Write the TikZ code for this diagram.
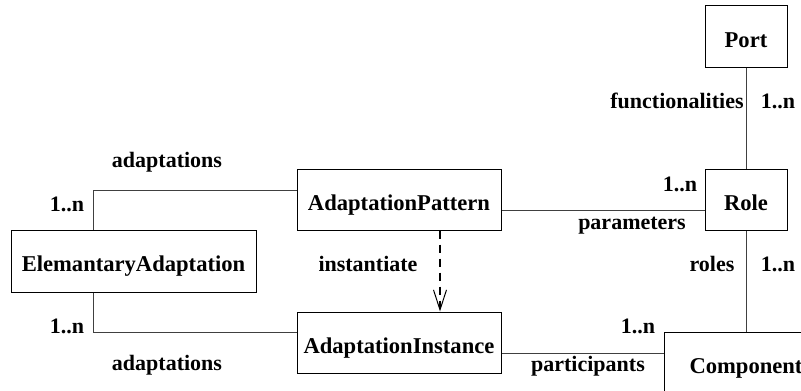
\documentclass[tikz,border=0pt]{standalone}
\usepackage{fontspec}
\setmainfont{Liberation Serif}
\usetikzlibrary{arrows.meta}
\begin{document}
\begin{tikzpicture}[x=1pt,y=-1pt,
  classbox/.style={draw,line width=1pt,rectangle,inner sep=0pt,
    text height=24pt,text depth=3pt,
    font=\fontsize{22.6}{27}\selectfont\bfseries},
  lbl/.style={inner sep=0pt,anchor=base,
    font=\fontsize{22}{26}\selectfont\bfseries},
  assoc/.style={line width=0.9pt,draw=black!75},
  dep/.style={line width=2pt,dash pattern=on 8pt off 6pt,
    -{Straight Barb[length=20pt,width=13pt,line width=1pt]}}]
\useasboundingbox (0,0) rectangle (801,391);
\clip (0,0) rectangle (801,391);
\fill[white] (0,0) rectangle (801,391);

% classes
\node[classbox,minimum width=82pt,minimum height=62pt,text height=26pt] (Port) at (746,36) {Port};
\node[classbox,minimum width=82pt,minimum height=61pt] (Role) at (746,199.5) {Role};
\node[classbox,minimum width=204pt,minimum height=61pt] (AP) at (399,199.5) {AdaptationPattern};
\node[classbox,minimum width=204pt,minimum height=61pt] (AI) at (399,342.5) {AdaptationInstance};
\node[classbox,minimum width=245pt,minimum height=62pt] (EA) at (133.5,261) {ElemantaryAdaptation};
\node[classbox,minimum width=164pt,minimum height=61pt] (Comp) at (746,362.5) {Component};

% associations
\draw[assoc] ([xshift=-40.5pt]EA.north) |- ([yshift=9.5pt]AP.west);
\draw[assoc] ([xshift=-40.5pt]EA.south) |- ([yshift=10pt]AI.west);
\draw[assoc] ([yshift=-10.5pt]AP.east) -- ([yshift=-10.5pt]AP.east -| Role.west);
\draw[assoc] (Port.south) -- (Role.north);
\draw[assoc] (Role.south) -- (Comp.north);
\draw[assoc] ([yshift=-10.5pt]AI.east) -- ([yshift=-10.5pt]AI.east -| Comp.west);

% instantiation dependency
\draw[dep] ([xshift=41pt]AP.south) -- ([xshift=41pt]AI.north);

% role names and multiplicities (placed on their baselines)
\node[lbl] (l1) at (167,167.5) {adaptations};
\node[lbl] (l2) at (67,211) {1..n};
\node[lbl] (l3) at (67,333) {1..n};
\node[lbl] (l4) at (167,370.5) {adaptations};
\node[lbl] (l5) at (368,271.5) {instantiate};
\node[lbl] (l6) at (632,229.5) {parameters};
\node[lbl] (l7) at (680,191.5) {1..n};
\node[lbl] (l8) at (677,108) {functionalities};
\node[lbl] (l9) at (778,108) {1..n};
\node[lbl] (l10) at (712,271.5) {roles};
\node[lbl] (l11) at (778,271.5) {1..n};
\node[lbl] (l12) at (638,333) {1..n};
\node[lbl] (l13) at (588,371.5) {participants};
\end{tikzpicture}
\end{document}
